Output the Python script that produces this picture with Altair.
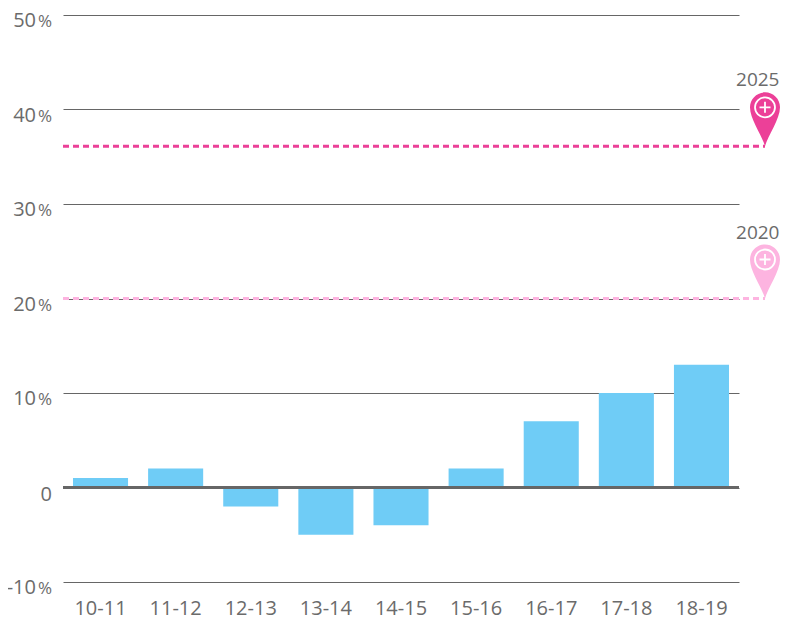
import altair as alt
import pandas as pd

seasons = ["10-11", "11-12", "12-13", "13-14", "14-15", "15-16", "16-17", "17-18", "18-19"]
changes = [1, 2, -2, -5, -4, 2, 7, 10, 13]
pct_ticks = [-10, 10, 20, 30, 40, 50]
grid_ticks = [-10, 0, 10, 20, 30, 40, 50]
target_years = ["2025", "2020"]
target_values = [36.1, 20]
target_colors = ["#EC4098", "#FDB4E0"]

FONT = "Open Sans"
GREY = "#6B6B6B"
LINE = "#666666"
PIN = "M0 0C-3 -11 -15 -27 -15 -39A15 15 0 1 1 15 -39C15 -27 3 -11 0 0Z"
RING = "M-10 -39A10 10 0 1 1 10 -39A10 10 0 1 1 -10 -39Z"
PLUS = "M-5.5 -39L5.5 -39M0 -44.5L0 -33.5"

bars_df = pd.DataFrame({"season": seasons, "change": changes})
ticks_df = pd.DataFrame({"v": pct_ticks, "num": [str(v) for v in pct_ticks], "pct": ["%"] * len(pct_ticks)})
zero_df = pd.DataFrame({"v": [0], "num": ["0"]})
targets_df = pd.DataFrame({"year": target_years, "v": target_values, "color": target_colors})

yscale = alt.Scale(domain=[-10, 50], nice=False, zero=False)
xscale = alt.Scale(domain=seasons, paddingInner=0.267, paddingOuter=0.133)
y_axis = alt.Axis(values=grid_ticks, labels=False, ticks=False, domain=False, title=None,
                  grid=True, gridColor=LINE, gridWidth=1)
y_enc = alt.Y("v:Q", scale=yscale, axis=y_axis, title=None)
color_enc = alt.Color("color:N", scale=None)

bars = alt.Chart(bars_df).mark_bar(color="#6FCCF6").encode(
    x=alt.X("season:N", scale=xscale, sort=seasons, title=None,
            axis=alt.Axis(labelAngle=0, labelFont=FONT, labelFontSize=20, labelColor=GREY,
                          labelPadding=16, ticks=False, domain=False, grid=False)),
    y=alt.Y("change:Q", scale=yscale, title=None, axis=y_axis),
)
zero_rule = alt.Chart(zero_df).mark_rule(color=LINE, strokeWidth=3).encode(y=y_enc)
numbers = alt.Chart(ticks_df).mark_text(font=FONT, fontSize=20, color=GREY, align="right", baseline="alphabetic", dy=12).encode(
    x=alt.value(-27), y=y_enc, text="num:N")
percents = alt.Chart(ticks_df).mark_text(font=FONT, fontSize=17, color=GREY, align="right", baseline="alphabetic", dy=12).encode(
    x=alt.value(-11), y=y_enc, text="pct:N")
zero_label = alt.Chart(zero_df).mark_text(font=FONT, fontSize=20, color=GREY, align="right", baseline="alphabetic", dy=13).encode(
    x=alt.value(-11), y=y_enc, text="num:N")
target_lines = alt.Chart(targets_df).mark_rule(strokeWidth=3, strokeDash=[6, 4]).encode(
    x=alt.value(0), x2=alt.value(702), y=y_enc, color=color_enc)
pins = alt.Chart(targets_df).mark_point(shape=PIN, size=4, filled=True, opacity=1).encode(
    x=alt.value(702), y=y_enc, color=color_enc)
rings = alt.Chart(targets_df).mark_point(shape=RING, size=4, filled=False, opacity=1, color="white", strokeWidth=1.8).encode(
    x=alt.value(702), y=y_enc)
plus = alt.Chart(targets_df).mark_point(shape=PLUS, size=4, filled=False, opacity=1, color="white", strokeWidth=1.8).encode(
    x=alt.value(702), y=y_enc)
years = alt.Chart(targets_df).mark_text(font=FONT, fontSize=19, color=GREY, align="right", baseline="alphabetic", dy=-60).encode(
    x=alt.value(716.5), y=y_enc, text="year:N")

chart = alt.layer(bars, zero_rule, numbers, percents, zero_label, target_lines, pins, rings, plus, years).properties(
    width=676, height=567,
    autosize=alt.AutoSizeParams(type="none"),
    padding={"left": 55, "top": 7, "right": 41, "bottom": 37},
).configure_view(stroke=None)

chart.save("out.html", embed_options={"renderer": "svg", "actions": False})
